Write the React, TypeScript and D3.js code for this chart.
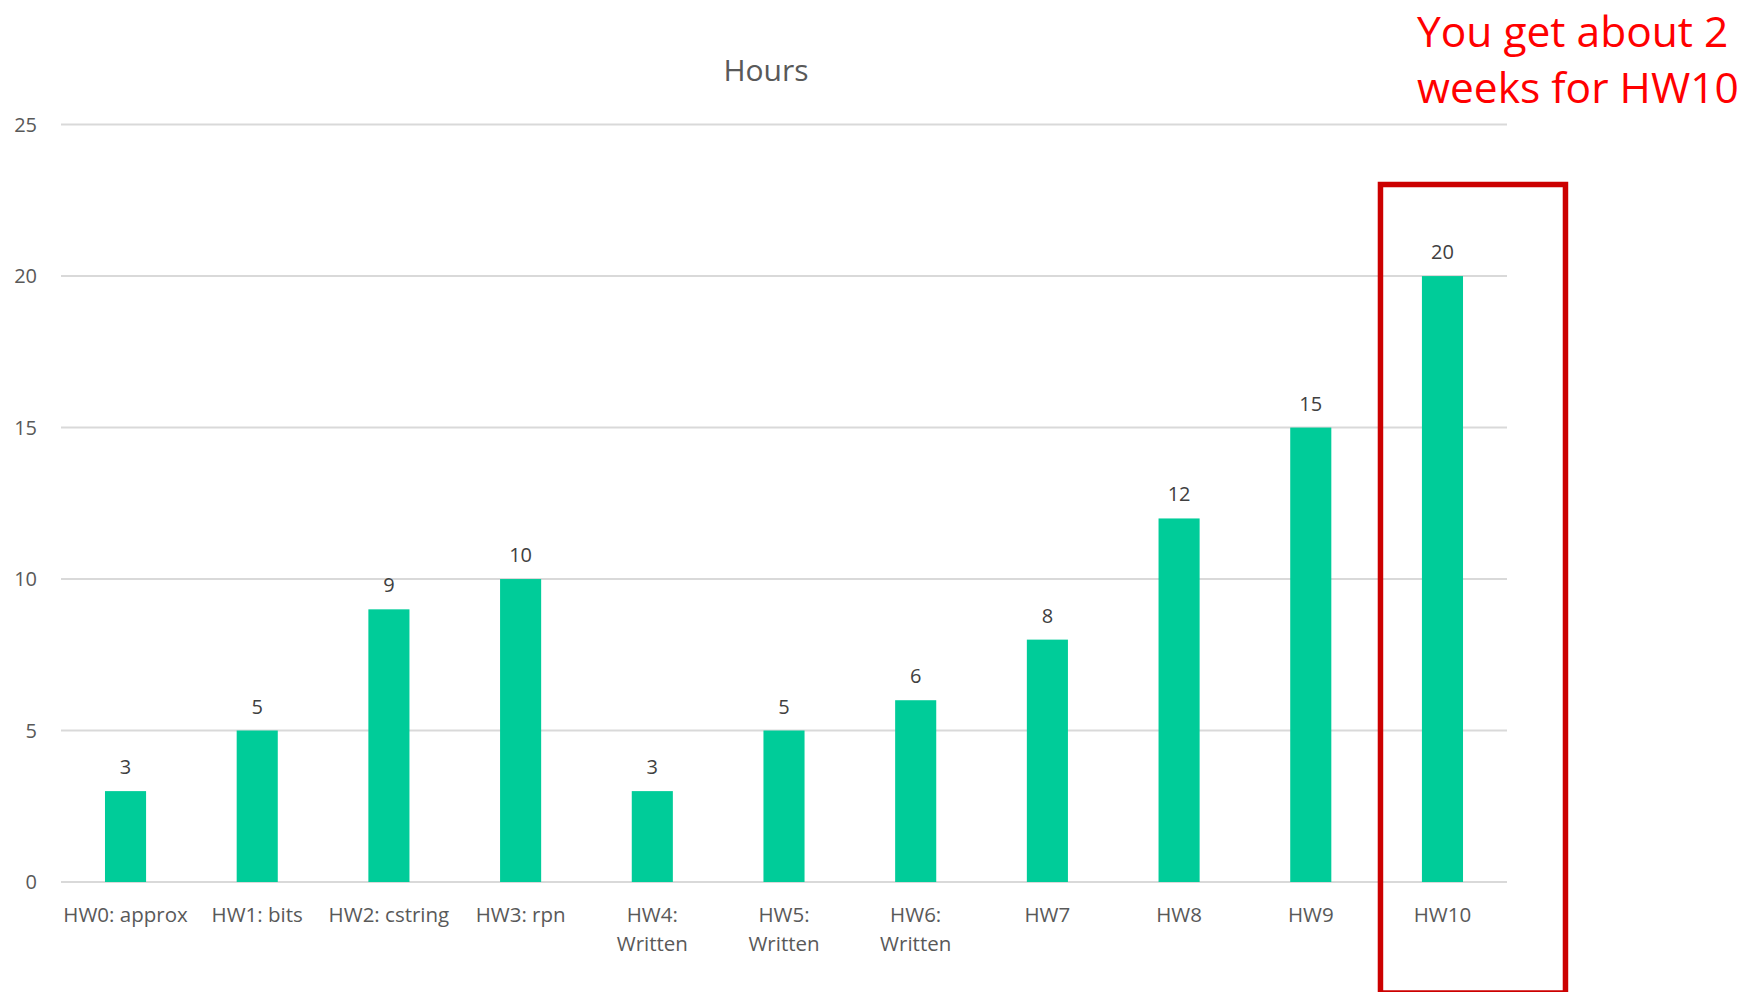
import React, { useEffect, useRef } from "react";
import * as d3 from "d3";

const categories = [
  "HW0: approx",
  "HW1: bits",
  "HW2: cstring",
  "HW3: rpn",
  "HW4: Written",
  "HW5: Written",
  "HW6: Written",
  "HW7",
  "HW8",
  "HW9",
  "HW10",
];
// how the category labels break onto lines under the axis
const tickLabels = [
  ["HW0: approx"],
  ["HW1: bits"],
  ["HW2: cstring"],
  ["HW3: rpn"],
  ["HW4:", "Written"],
  ["HW5:", "Written"],
  ["HW6:", "Written"],
  ["HW7"],
  ["HW8"],
  ["HW9"],
  ["HW10"],
];
const hours = [3, 5, 9, 10, 3, 5, 6, 8, 12, 15, 20];
const yTicks = [0, 5, 10, 15, 20, 25];
const title = "Hours";
const note = ["You get about 2", "weeks for HW10"];
const highlighted = "HW10";

const width = 1744;
const height = 992;
const margin = { top: 124.6, left: 61, right: 237, bottom: 110 };
const font = "'Open Sans', 'Noto Sans', sans-serif";

const App = () => {
  const svgRef = useRef(null);

  useEffect(() => {
    const xScale = d3
      .scaleBand<string>()
      .domain(categories)
      .range([margin.left, width - margin.right])
      .paddingInner(0.688)
      .paddingOuter(0.334);
    const yScale = d3
      .scaleLinear()
      .domain([0, 25])
      .range([height - margin.bottom, margin.top]);

    const svg = d3.select(svgRef.current);
    svg.selectAll("*").remove();
    svg.append("rect").attr("width", width).attr("height", height).attr("fill", "#fff");

    // gridlines
    svg
      .append("g")
      .selectAll("line")
      .data(yTicks)
      .join("line")
      .attr("x1", margin.left)
      .attr("x2", width - margin.right)
      .attr("y1", (d) => yScale(d))
      .attr("y2", (d) => yScale(d))
      .attr("stroke", "#D9D9D9")
      .attr("stroke-width", 2);

    // y tick labels
    svg
      .append("g")
      .selectAll("text")
      .data(yTicks)
      .join("text")
      .attr("x", 37)
      .attr("y", (d) => yScale(d))
      .attr("dy", "0.36em")
      .attr("text-anchor", "end")
      .attr("font-family", font)
      .attr("font-size", 20)
      .attr("fill", "#595959")
      .text((d) => d);

    // bars
    svg
      .append("g")
      .selectAll("rect")
      .data(hours)
      .join("rect")
      .attr("x", (_, i) => xScale(categories[i])!)
      .attr("width", xScale.bandwidth())
      .attr("y", (d) => yScale(d))
      .attr("height", (d) => yScale(0) - yScale(d))
      .attr("fill", "#00CC99");

    // value labels
    svg
      .append("g")
      .selectAll("text")
      .data(hours)
      .join("text")
      .attr("x", (_, i) => xScale(categories[i])! + xScale.bandwidth() / 2)
      .attr("y", (d) => yScale(d) - 17)
      .attr("text-anchor", "middle")
      .attr("font-family", font)
      .attr("font-size", 20)
      .attr("fill", "#404040")
      .text((d) => d);

    // category labels
    const cat = svg
      .append("g")
      .selectAll("text")
      .data(categories)
      .join("text")
      .attr("x", (d) => xScale(d)! + xScale.bandwidth() / 2)
      .attr("y", yScale(0) + 40)
      .attr("text-anchor", "middle")
      .attr("font-family", font)
      .attr("font-size", 20.5)
      .attr("fill", "#595959");
    cat
      .selectAll("tspan")
      .data((_, i) => tickLabels[i])
      .join("tspan")
      .attr("x", function () {
        return (this as SVGTSpanElement).parentElement!.getAttribute("x");
      })
      .attr("dy", (_, j) => (j === 0 ? 0 : 29))
      .text((d) => d);

    // title
    svg
      .append("text")
      .attr("x", 766)
      .attr("y", 81)
      .attr("text-anchor", "middle")
      .attr("font-family", font)
      .attr("font-size", 30)
      .attr("fill", "#595959")
      .text(title);

    // red highlight box around HW10
    const cx = xScale(highlighted)! + xScale.bandwidth() / 2;
    svg
      .append("rect")
      .attr("x", cx - 62)
      .attr("y", 184.5)
      .attr("width", 185)
      .attr("height", height - 184.5 + 1)
      .attr("fill", "none")
      .attr("stroke", "#CC0000")
      .attr("stroke-width", 5.5);

    svg
      .append("g")
      .selectAll("text")
      .data(note)
      .join("text")
      .attr("x", 1417)
      .attr("y", (_, i) => 47 + i * 56)
      .attr("font-family", font)
      .attr("font-size", 42.5)
      .attr("fill", "#FF0000")
      .text((d) => d);
  }, []);

  return (
    <svg
      ref={svgRef}
      width={width}
      height={height}
      style={{ position: "absolute", left: 0, top: 0 }}
    />
  );
};

export default App;
